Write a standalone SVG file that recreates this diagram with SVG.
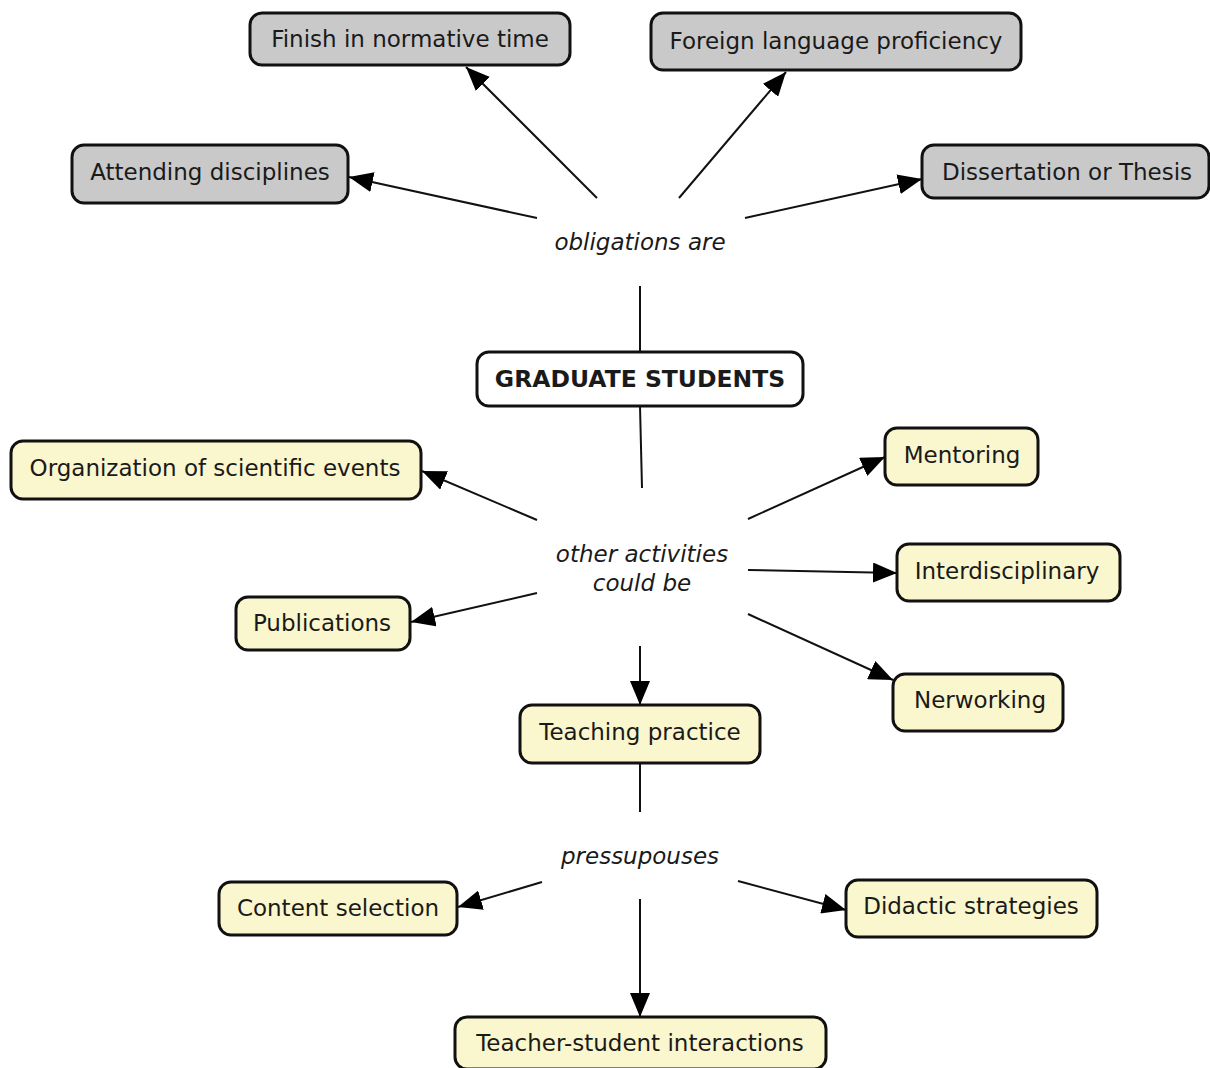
<svg xmlns="http://www.w3.org/2000/svg" width="1210" height="1068" viewBox="0 0 1210 1068">
<defs>
<style>
.box{stroke:#111;stroke-width:3}
.g{fill:#c9c9c9}
.y{fill:#faf6cd}
.w{fill:#fff}
text{font-family:"DejaVu Sans",Verdana,sans-serif;font-size:23px;fill:#1a1a1a;text-anchor:middle;dominant-baseline:central}
.lbl{font-style:italic}
.b{font-weight:bold;font-size:23.5px}
.c line{stroke:#111;stroke-width:2}
.c line.a{marker-end:url(#ah)}
</style>
<marker id="ah" markerUnits="userSpaceOnUse" markerWidth="24" markerHeight="20" refX="24" refY="10" orient="auto">
<path d="M0,0 L24,10 L0,20 z" fill="#000"/>
</marker>
</defs>
<rect width="1210" height="1068" fill="#fff"/>
<g class="c" id="connectors">
<line class="a" x1="537" y1="218" x2="349" y2="177"/>
<line class="a" x1="597" y1="198" x2="466" y2="67"/>
<line class="a" x1="679" y1="198" x2="786" y2="72"/>
<line class="a" x1="745" y1="218" x2="922" y2="179"/>
<line x1="640" y1="286" x2="640" y2="352"/>
<line x1="640" y1="406" x2="642" y2="488"/>
<line class="a" x1="537" y1="520" x2="422" y2="471"/>
<line class="a" x1="537" y1="593" x2="411" y2="622"/>
<line class="a" x1="748" y1="519" x2="885" y2="457"/>
<line class="a" x1="748" y1="570" x2="897" y2="573"/>
<line class="a" x1="748" y1="614" x2="893" y2="680"/>
<line class="a" x1="640" y1="646" x2="640" y2="705"/>
<line x1="640" y1="763" x2="640" y2="812"/>
<line class="a" x1="542" y1="882" x2="458" y2="907"/>
<line class="a" x1="738" y1="881" x2="846" y2="910"/>
<line class="a" x1="640" y1="899" x2="640" y2="1017"/>
</g>
<g id="finish"><rect class="box g" x="250" y="13" width="320" height="52" rx="12"/><text x="410" y="39">Finish in normative time</text></g>
<g id="foreign"><rect class="box g" x="651" y="13" width="370" height="57" rx="12"/><text x="836" y="41">Foreign language proficiency</text></g>
<g id="attending"><rect class="box g" x="72" y="145" width="276" height="58" rx="12"/><text x="210" y="172">Attending disciplines</text></g>
<g id="dissertation"><rect class="box g" x="922" y="145" width="287" height="53" rx="12"/><text x="1067" y="172">Dissertation or Thesis</text></g>
<g id="obligations"><text class="lbl" x="640" y="242">obligations are</text></g>
<g id="graduate"><rect class="box w" x="477" y="352" width="326" height="54" rx="12"/><text class="b" x="640" y="379">GRADUATE STUDENTS</text></g>
<g id="organization"><rect class="box y" x="11" y="441" width="410" height="58" rx="12"/><text x="215" y="468">Organization of scientific events</text></g>
<g id="mentoring"><rect class="box y" x="885" y="428" width="153" height="57" rx="12"/><text x="962" y="455">Mentoring</text></g>
<g id="other"><text class="lbl" x="642" y="554">other activities</text><text class="lbl" x="642" y="583">could be</text></g>
<g id="interdisciplinary"><rect class="box y" x="897" y="544" width="223" height="57" rx="12"/><text x="1007" y="571">Interdisciplinary</text></g>
<g id="publications"><rect class="box y" x="236" y="597" width="174" height="53" rx="12"/><text x="322" y="623">Publications</text></g>
<g id="networking"><rect class="box y" x="893" y="674" width="170" height="57" rx="12"/><text x="980" y="700">Nerworking</text></g>
<g id="teaching"><rect class="box y" x="520" y="705" width="240" height="58" rx="12"/><text x="640" y="732">Teaching practice</text></g>
<g id="pressupouses"><text class="lbl" x="640" y="856">pressupouses</text></g>
<g id="content"><rect class="box y" x="219" y="882" width="238" height="53" rx="12"/><text x="338" y="908">Content selection</text></g>
<g id="didactic"><rect class="box y" x="846" y="880" width="251" height="57" rx="12"/><text x="971" y="906">Didactic strategies</text></g>
<g id="interactions"><rect class="box y" x="455" y="1017" width="371" height="52" rx="12"/><text x="640" y="1043">Teacher-student interactions</text></g>
</svg>
